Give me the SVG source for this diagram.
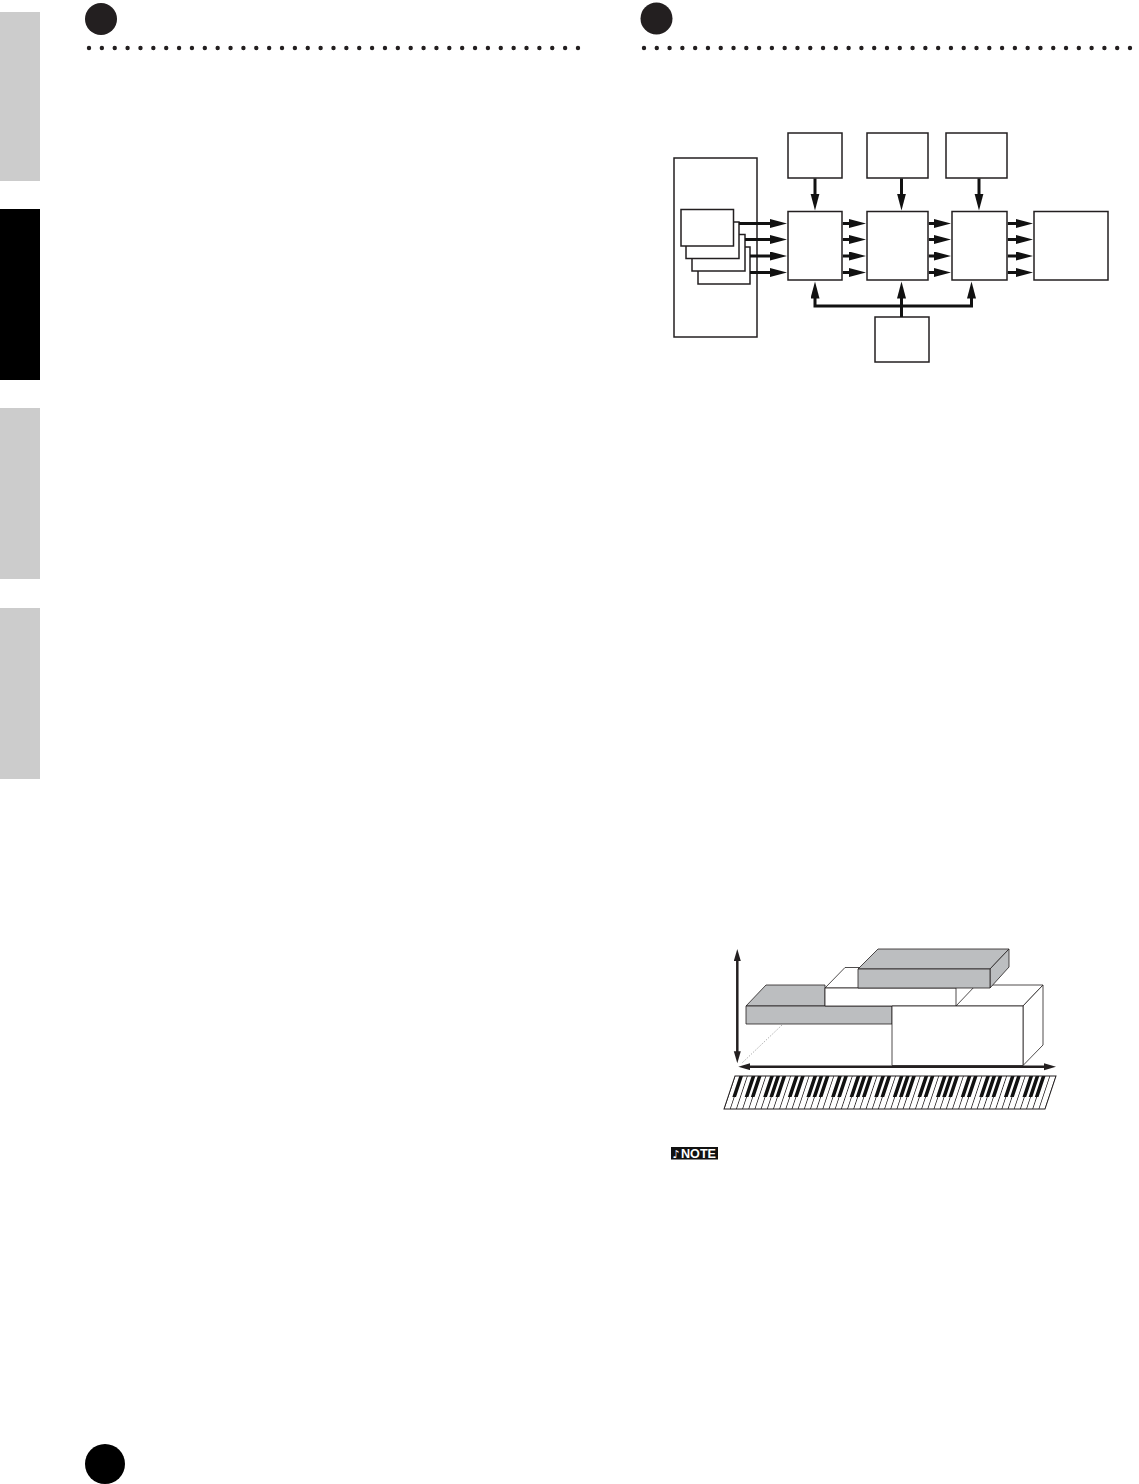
<svg xmlns="http://www.w3.org/2000/svg" width="1139" height="1484" viewBox="0 0 1139 1484">
<style>
.tab{fill:#cccccc}
.dots{stroke:#231f20;stroke-width:4.4;stroke-linecap:round;fill:none}
.box{fill:#fff;stroke:#231f20;stroke-width:1.5}
.conn{stroke:#111;stroke-width:3;fill:none;stroke-linejoin:miter}
.thin{stroke:#231f20;stroke-width:2.5;fill:none}
.gray{fill:#bcbec0;stroke:#231f20;stroke-width:0.8;stroke-linejoin:round}
.wh{fill:#fff;stroke:#231f20;stroke-width:0.8;stroke-linejoin:round}
</style>
<defs>
<marker id="ah" markerUnits="userSpaceOnUse" markerWidth="18" markerHeight="10" refX="7" refY="4.5" orient="auto-start-reverse"><path d="M0,0 L17,4.5 L0,9 z" fill="#111"/></marker>
<marker id="sa" markerUnits="userSpaceOnUse" markerWidth="13" markerHeight="8" refX="5" refY="3.5" orient="auto-start-reverse"><path d="M0,0 L12,3.5 L0,7 z" fill="#231f20"/></marker>
<pattern id="wk" patternUnits="userSpaceOnUse" width="6.1731" height="33" x="-0.4"><rect x="0" y="0" width="0.8" height="33" fill="#231f20"/></pattern>
</defs>
<rect width="1139" height="1484" fill="#fff"/>
<g id="tabs">
<rect class="tab" x="0" y="12" width="40" height="169"/>
<rect x="0" y="209" width="40" height="171" fill="#000"/>
<rect class="tab" x="0" y="408" width="40" height="171"/>
<rect class="tab" x="0" y="608" width="40" height="171"/>
</g>
<g id="header-left">
<circle cx="101" cy="19" r="16" fill="#231f20"/>
<line class="dots" x1="89" y1="48" x2="578.1" y2="48" stroke-dasharray="0 12.868"/>
</g>
<g id="header-right">
<circle cx="656.5" cy="18.5" r="16" fill="#231f20"/>
<line class="dots" x1="644" y1="48" x2="1130.1" y2="48" stroke-dasharray="0 12.789"/>
</g>
<g id="node-source">
<rect class="box" x="674" y="158" width="83" height="179"/>
<rect class="box" x="698" y="247" width="52" height="37"/>
<rect class="box" x="692" y="234.5" width="53" height="36.5"/>
<rect class="box" x="686" y="222" width="53" height="36.5"/>
<rect class="box" x="681" y="209.5" width="52.5" height="36.5"/>
</g>
<g id="node-top-a"><rect class="box" x="788" y="133" width="54" height="45"/></g>
<g id="node-top-b"><rect class="box" x="867" y="133" width="61" height="45"/></g>
<g id="node-top-c"><rect class="box" x="946" y="133" width="61" height="45"/></g>
<g id="node-a"><rect class="box" x="788" y="211.5" width="54" height="68.5"/></g>
<g id="node-b"><rect class="box" x="867" y="211.5" width="61" height="68.5"/></g>
<g id="node-c"><rect class="box" x="952" y="211.5" width="55" height="68.5"/></g>
<g id="node-d"><rect class="box" x="1034" y="211.5" width="74" height="68.5"/></g>
<g id="node-bottom"><rect class="box" x="875" y="317" width="54" height="45"/></g>
<g id="connectors">
<line class="conn" x1="739" y1="223.5" x2="777" y2="223.5" marker-end="url(#ah)"/>
<line class="conn" x1="745" y1="239.5" x2="777" y2="239.5" marker-end="url(#ah)"/>
<line class="conn" x1="750" y1="256" x2="777" y2="256" marker-end="url(#ah)"/>
<line class="conn" x1="750" y1="272.5" x2="777" y2="272.5" marker-end="url(#ah)"/>
<line class="conn" x1="842.8" y1="223.5" x2="856" y2="223.5" marker-end="url(#ah)"/>
<line class="conn" x1="842.8" y1="239.5" x2="856" y2="239.5" marker-end="url(#ah)"/>
<line class="conn" x1="842.8" y1="256" x2="856" y2="256" marker-end="url(#ah)"/>
<line class="conn" x1="842.8" y1="272.5" x2="856" y2="272.5" marker-end="url(#ah)"/>
<line class="conn" x1="928.8" y1="223.5" x2="941" y2="223.5" marker-end="url(#ah)"/>
<line class="conn" x1="928.8" y1="239.5" x2="941" y2="239.5" marker-end="url(#ah)"/>
<line class="conn" x1="928.8" y1="256" x2="941" y2="256" marker-end="url(#ah)"/>
<line class="conn" x1="928.8" y1="272.5" x2="941" y2="272.5" marker-end="url(#ah)"/>
<line class="conn" x1="1007.8" y1="223.5" x2="1023" y2="223.5" marker-end="url(#ah)"/>
<line class="conn" x1="1007.8" y1="239.5" x2="1023" y2="239.5" marker-end="url(#ah)"/>
<line class="conn" x1="1007.8" y1="256" x2="1023" y2="256" marker-end="url(#ah)"/>
<line class="conn" x1="1007.8" y1="272.5" x2="1023" y2="272.5" marker-end="url(#ah)"/>
<line class="conn" x1="815" y1="178.5" x2="815" y2="200.5" marker-end="url(#ah)"/>
<line class="conn" x1="901.5" y1="178.5" x2="901.5" y2="200.5" marker-end="url(#ah)"/>
<line class="conn" x1="979" y1="178.5" x2="979" y2="200.5" marker-end="url(#ah)"/>
<path class="conn" d="M815,291.5 V306 H971.5 V291.5" marker-start="url(#ah)" marker-end="url(#ah)"/>
<line class="conn" x1="901.5" y1="317" x2="901.5" y2="291.5" marker-end="url(#ah)"/>
</g>
<g id="range-blocks">
<polygon class="gray" points="746,1006 766,985 825,985 825,1006"/>
<rect class="gray" x="746" y="1006" width="146" height="18"/>
<polygon class="wh" points="825,988 845,967.5 860,967.5 860,988"/>
<rect class="wh" x="825" y="988" width="131" height="18"/>
<polygon class="wh" points="956,1006 976,985 1043,985 1023,1006"/>
<polygon class="wh" points="1023,1006 1043,985 1043,1045 1023,1065.5"/>
<rect class="wh" x="892" y="1006" width="131" height="59.5"/>
<polygon class="gray" points="858,969 878,949 1009,949 990,969"/>
<polygon class="gray" points="990,969 1009,949 1009,967 990,988"/>
<rect class="gray" x="858" y="969" width="132" height="19"/>
<line x1="782" y1="1025" x2="742" y2="1063" stroke="#8a8a8a" stroke-width="0.9" stroke-dasharray="1,1.6"/>
</g>
<g id="range-arrows">
<line class="thin" x1="737.3" y1="956" x2="737.3" y2="1056.3" marker-start="url(#sa)" marker-end="url(#sa)"/>
<line class="thin" x1="745.3" y1="1066.7" x2="1049" y2="1066.7" marker-start="url(#sa)" marker-end="url(#sa)"/>
</g>
<g id="keyboard" transform="translate(735,1076) skewX(-18.435)">
<rect x="0" y="0" width="321" height="33" fill="#fff"/>
<rect x="0" y="0" width="321" height="33" fill="url(#wk)"/>
<path fill="#111" d="M4.32,0h3.7v21h-3.7z M16.67,0h3.7v21h-3.7z M22.84,0h3.7v21h-3.7z M35.19,0h3.7v21h-3.7z M41.36,0h3.7v21h-3.7z M47.53,0h3.7v21h-3.7z M59.88,0h3.7v21h-3.7z M66.05,0h3.7v21h-3.7z M78.40,0h3.7v21h-3.7z M84.57,0h3.7v21h-3.7z M90.75,0h3.7v21h-3.7z M103.09,0h3.7v21h-3.7z M109.27,0h3.7v21h-3.7z M121.61,0h3.7v21h-3.7z M127.78,0h3.7v21h-3.7z M133.96,0h3.7v21h-3.7z M146.30,0h3.7v21h-3.7z M152.48,0h3.7v21h-3.7z M164.82,0h3.7v21h-3.7z M171.00,0h3.7v21h-3.7z M177.17,0h3.7v21h-3.7z M189.52,0h3.7v21h-3.7z M195.69,0h3.7v21h-3.7z M208.03,0h3.7v21h-3.7z M214.21,0h3.7v21h-3.7z M220.38,0h3.7v21h-3.7z M232.73,0h3.7v21h-3.7z M238.90,0h3.7v21h-3.7z M251.25,0h3.7v21h-3.7z M257.42,0h3.7v21h-3.7z M263.59,0h3.7v21h-3.7z M275.94,0h3.7v21h-3.7z M282.11,0h3.7v21h-3.7z M294.46,0h3.7v21h-3.7z M300.63,0h3.7v21h-3.7z M306.80,0h3.7v21h-3.7z"/>
<rect x="0" y="0" width="321" height="33" fill="none" stroke="#231f20" stroke-width="1"/>
</g>
<g id="note-icon">
<rect x="671" y="1147" width="47" height="12.5" fill="#111"/>
<text x="672.5" y="1158.3" font-family="DejaVu Sans, sans-serif" font-size="11" font-weight="bold" fill="#ffffff">♪</text>
<text x="681" y="1158.3" font-family="Liberation Sans, Arial, sans-serif" font-size="12" font-weight="bold" fill="#ffffff" textLength="35" lengthAdjust="spacingAndGlyphs">NOTE</text>
</g>
<g id="page-number">
<circle cx="105" cy="1464" r="20" fill="#000"/>
</g>
</svg>
